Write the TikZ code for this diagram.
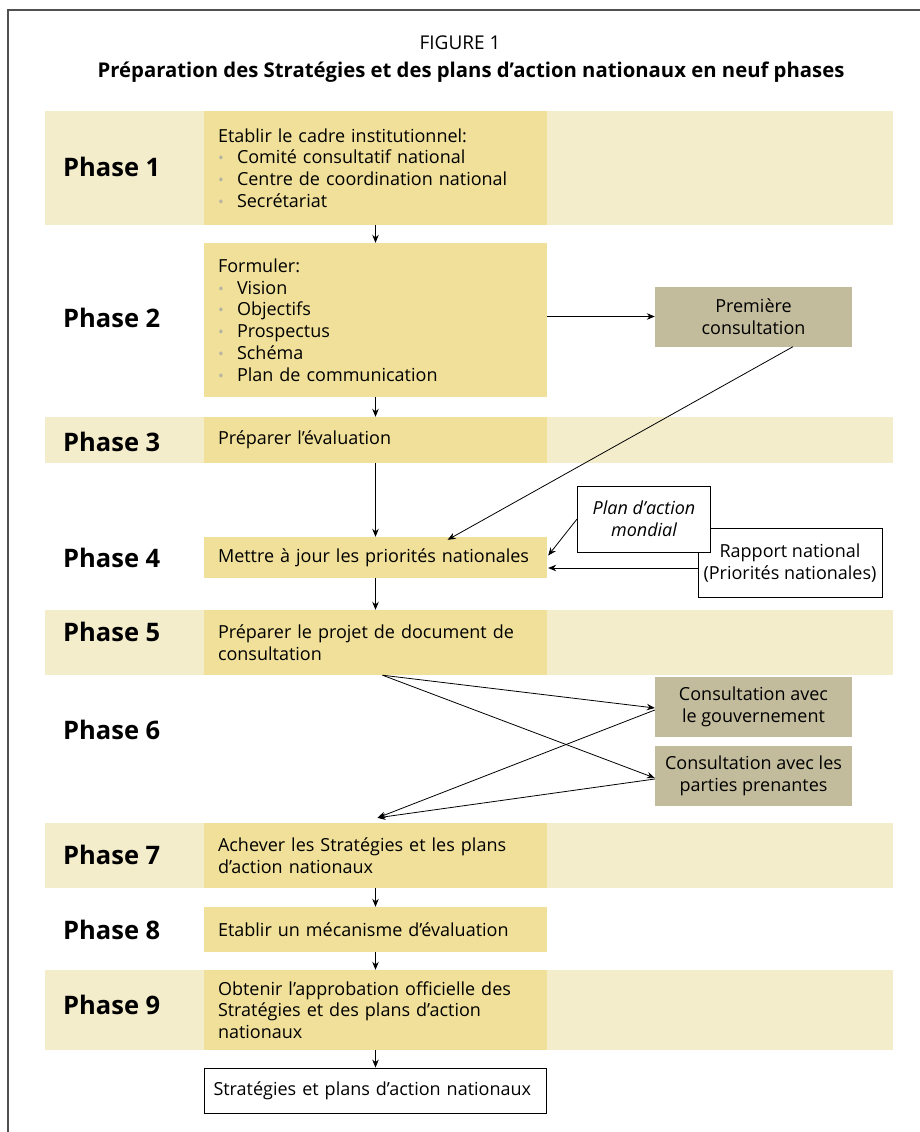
\documentclass[tikz,border=0pt]{standalone}
\usepackage{fontspec}
\setmainfont{Open Sans}
\usetikzlibrary{positioning, arrows.meta, calc}

\definecolor{bandcol}{HTML}{F4EDCC}
\definecolor{boxcol}{HTML}{F0E099}
\definecolor{consultcol}{HTML}{C2BC9C}
\definecolor{bulcol}{HTML}{B8B4A2}
\definecolor{framecol}{HTML}{505050}

\newcommand{\bpoint}[1]{\makebox[19pt][l]{\textcolor{bulcol}{\scalebox{0.85}{\textbullet}}}#1}

\begin{document}
\begin{tikzpicture}[
  x=1pt, y=-1pt,
  every node/.style={font=\fontsize{18}{21.7}\selectfont},
  band/.style={fill=bandcol},
  stepbox/.style={fill=boxcol, text width=315pt, inner xsep=14pt, inner ysep=0pt, align=left},
  phaselbl/.style={anchor=west, inner sep=0pt, font=\fontsize{25.5}{28}\selectfont\bfseries},
  consult/.style={fill=consultcol, minimum width=197pt, minimum height=60pt, inner sep=2pt, align=center},
  source/.style={draw, fill=white, line width=0.9pt, inner sep=2pt, align=center},
  flow/.style={-{Stealth[length=8pt, width=6.5pt]}, line width=0.8pt}
]
\useasboundingbox (0,0) rectangle (920,1132);

% frame and title
\draw[framecol, line width=1.3pt] (8,1132) -- (8,10) -- (920,10);
\node[font=\fontsize{19}{22}\selectfont] (fig) at (460,43) {FIGURE 1};
\node[font=\fontsize{20.3}{24}\selectfont\bfseries] (title) at (471,72)
  {Préparation des Stratégies et des plans d’action nationaux en neuf phases};

% light bands of the odd phases
\fill[band] (45,111) rectangle (893,225);
\fill[band] (45,417) rectangle (893,463);
\fill[band] (45,610) rectangle (893,675);
\fill[band] (45,823) rectangle (893,888);
\fill[band] (45,970) rectangle (893,1050);

% phase labels
\node[phaselbl] (p1) at (63,167)  {Phase 1};
\node[phaselbl] (p2) at (63,318)  {Phase 2};
\node[phaselbl] (p3) at (63,442)  {Phase 3};
\node[phaselbl] (p4) at (63,558)  {Phase 4};
\node[phaselbl] (p5) at (63,632)  {Phase 5};
\node[phaselbl] (p6) at (63,730)  {Phase 6};
\node[phaselbl] (p7) at (63,855)  {Phase 7};
\node[phaselbl] (p8) at (63,930)  {Phase 8};
\node[phaselbl] (p9) at (63,1005) {Phase 9};

% the steps
\node[stepbox, minimum height=114pt] (s1) at (375.5,168) {Etablir le cadre institutionnel:\\
  \bpoint{Comité consultatif national}\\
  \bpoint{Centre de coordination national}\\
  \bpoint{Secrétariat}};
\node[stepbox, minimum height=154pt] (s2) at (375.5,320) {Formuler:\\
  \bpoint{Vision}\\
  \bpoint{Objectifs}\\
  \bpoint{Prospectus}\\
  \bpoint{Schéma}\\
  \bpoint{Plan de communication}};
\node[stepbox, minimum height=46pt] (s3) at (375.5,440) {Préparer l’évaluation};
\node[stepbox, minimum height=41pt] (s4) at (375.5,557.5) {Mettre à jour les priorités nationales};
\node[stepbox, minimum height=65pt] (s5) at (375.5,642.5) {Préparer le projet de document de\\consultation};
\node[stepbox, minimum height=65pt] (s7) at (375.5,855.5) {Achever les Stratégies et les plans\\d’action nationaux};
\node[stepbox, minimum height=45pt] (s8) at (375.5,929.5) {Etablir un mécanisme d’évaluation};
\node[stepbox, minimum height=80pt] (s9) at (375.5,1010) {Obtenir l’approbation officielle des\\Stratégies et des plans d’action\\nationaux};
\node[source, text width=324pt, inner xsep=9pt, minimum height=45pt, align=left] (out) at (375.5,1090.5)
  {Stratégies et plans d’action nationaux};

% side boxes
\node[consult] (prem) at (753.5,316.5) {Première\\consultation};
\node[source, minimum width=184pt, minimum height=69pt] (rapport) at (790,563) {Rapport national\\(Priorités nationales)};
\node[source, minimum width=133pt, minimum height=66pt, font=\fontsize{18}{21.7}\selectfont\itshape] (plan) at (644,519) {Plan d’action\\mondial};
\node[consult] (gov) at (753.5,707) {Consultation avec\\le gouvernement};
\node[consult] (part) at (753.5,776) {Consultation avec les\\parties prenantes};

% main flow
\draw[flow] (s1) -- (s2);
\draw[flow] (s2) -- (s3);
\draw[flow] (s3) -- (s4);
\draw[flow] (s4) -- (s5);
\draw[flow] (s7) -- (s8);
\draw[flow] (s8) -- (s9);
\draw[flow] (s9) -- (out);

% inputs to phases 2 and 4
\coordinate (rin) at ([yshift=-5pt]rapport.west);
\draw[flow] (s2.east |- prem.west) -- (prem.west);
\draw[flow] ($(prem.south west)!0.7!(prem.south east)$) -- ($(s4.north west)!0.71!(s4.north east)+(0,3)$);
\draw[flow] (plan.west) -- ([xshift=1pt, yshift=2pt]s4.east);
\draw[flow] (rin) -- ([xshift=1pt]rin -| s4.east);

% consultations of phase 6
\draw[flow] ([xshift=7pt]s5.south) -- ([yshift=-1pt]gov.west);
\draw[flow] ([xshift=7pt]s5.south) -- ([yshift=-2pt]part.west);
\draw[flow] ([yshift=-3pt]gov.west) -- ([xshift=2pt, yshift=5pt]s7.north);
\draw[flow] ([yshift=-3pt]part.west) -- ([xshift=2pt, yshift=5pt]s7.north);

\end{tikzpicture}
\end{document}
